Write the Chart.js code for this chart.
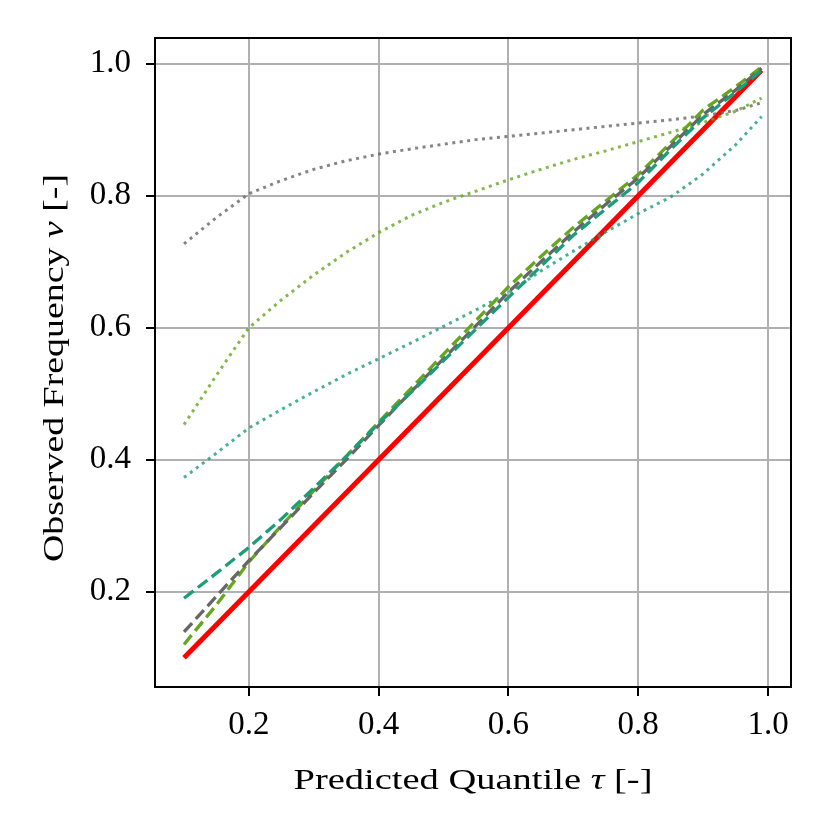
<!DOCTYPE html>
<html><head><meta charset="utf-8">
<script src="https://cdn.jsdelivr.net/npm/chart.js@4.4.1/dist/chart.umd.min.js"></script>
<style>html,body{margin:0;padding:0;background:#fff}#wrap{width:829px;height:829px;position:relative}
#pre{position:absolute;left:-9999px;top:0;font-family:"Liberation Serif";font-size:30px}
#pre i{font-style:italic}</style>
</head><body><div id="pre">Predicted 0.2 <i>τ v</i></div><div id="wrap"><canvas id="c" width="829" height="829"></canvas></div>
<script>
const quantiles = [0.1,0.15,0.2,0.25,0.3,0.35,0.4,0.45,0.5,0.55,0.6,0.65,0.7,0.75,0.8,0.85,0.9,0.95,0.99];
const idealLine = [0.1,0.15,0.2,0.25,0.3,0.35,0.4,0.45,0.5,0.55,0.6,0.65,0.7,0.75,0.8,0.85,0.9,0.95,0.99];
const tealDashed = [0.19,0.228,0.267,0.31,0.357,0.405,0.455,0.502,0.55,0.598,0.646,0.693,0.74,0.78,0.82,0.87,0.918,0.957,0.99];
const grayDashed = [0.139,0.193,0.247,0.298,0.35,0.40,0.452,0.503,0.553,0.603,0.654,0.70,0.745,0.787,0.827,0.875,0.923,0.96,0.993];
const greenDashed = [0.12,0.18,0.245,0.30,0.353,0.405,0.457,0.508,0.56,0.611,0.662,0.708,0.752,0.792,0.832,0.88,0.93,0.965,0.995];
const tealDotted = [0.373,0.41,0.448,0.476,0.503,0.529,0.553,0.577,0.602,0.627,0.653,0.686,0.716,0.745,0.773,0.798,0.833,0.877,0.92];
const grayDotted = [0.727,0.767,0.803,0.823,0.840,0.853,0.863,0.871,0.878,0.885,0.890,0.895,0.900,0.905,0.910,0.915,0.921,0.929,0.941];
const greenDotted = [0.453,0.528,0.60,0.642,0.680,0.714,0.744,0.770,0.790,0.807,0.824,0.840,0.855,0.868,0.882,0.896,0.911,0.928,0.948];
const xTicks = [0.2,0.4,0.6,0.8,1.0];
const yTicks = [0.2,0.4,0.6,0.8,1.0];

const pts = arr => quantiles.map((q,i)=>({x:q,y:arr[i]}));
const SERIF = '"Liberation Serif", serif';

function ds(arr, color, width, dash, order){
  return {data: pts(arr), borderColor: color, borderWidth: width, borderDash: dash,
    pointRadius: 0, fill: false, tension: 0, order: order, borderCapStyle: 'butt'};
}

const framePlugin = {
  id: 'frame',
  afterDraw(chart){
    const {ctx, chartArea: a} = chart;
    ctx.save();
    ctx.strokeStyle = '#000'; ctx.lineWidth = 2;
    ctx.strokeRect(a.left, a.top, a.right - a.left, a.bottom - a.top);
    ctx.fillStyle = '#000';
    ctx.textBaseline = 'alphabetic';
    function drawPieces(pieces, cx, by, target){
      let w = 0;
      pieces.forEach(p => { ctx.font = (p[1] ? 'italic ' : '') + '30px ' + SERIF; w += ctx.measureText(p[0]).width; });
      const sx = target / w;
      ctx.save();
      ctx.translate(cx, by);
      ctx.scale(sx, 1);
      let x = -w/2;
      pieces.forEach(p => { ctx.font = (p[1] ? 'italic ' : '') + '30px ' + SERIF; ctx.fillText(p[0], x, 0); x += ctx.measureText(p[0]).width; });
      ctx.restore();
    }
    drawPieces([['Predicted Quantile ', false], ['τ', true], [' [-]', false]], (a.left + a.right)/2, 789, 359);
    ctx.translate(63, 368);
    ctx.rotate(-Math.PI/2);
    drawPieces([['Observed Frequency ', false], ['v', true], [' [-]', false]], 0, 0, 388);
    ctx.restore();
  }
};

function build(){
new Chart(document.getElementById('c'), {
  type: 'line',
  data: { datasets: [
    ds(grayDotted, 'rgba(102,102,102,0.8)', 3, [3,4.5], 3),
    ds(greenDotted, 'rgba(102,166,30,0.8)', 3, [3,4.5], 3),
    ds(tealDotted, 'rgba(27,158,119,0.8)', 3, [3,4.5], 3),
    ds(tealDashed, '#1b9e77', 3.3, [12,5.5], 2),
    ds(grayDashed, '#666666', 3.3, [12,5.5], 2),
    ds(greenDashed, '#66a61e', 3.3, [12,5.5], 2),
    ds(idealLine, '#ff0000', 5, [], 4)
  ]},
  options: {
    responsive: false, devicePixelRatio: 1, animation: false,
    layout: { padding: { left: 0, top: 38, right: 38, bottom: 0 } },
    plugins: { legend: { display: false }, tooltip: { enabled: false } },
    scales: {
      x: { type: 'linear', min: 0.0553, max: 1.0354,
        afterBuildTicks: s => { s.ticks = xTicks.map(v => ({value: v})); },
        afterFit: s => { s.height = 142; },
        grid: { color: '#b0b0b0', lineWidth: 2, tickLength: 9, tickColor: '#000', tickWidth: 2 },
        border: { display: false },
        ticks: { color: '#000', font: { family: SERIF, size: 33 }, padding: 10, maxRotation: 0,
          callback: v => v.toFixed(1) } },
      y: { type: 'linear', min: 0.0555, max: 1.039,
        afterBuildTicks: s => { s.ticks = yTicks.map(v => ({value: v})); },
        afterFit: s => { s.width = 155; },
        grid: { color: '#b0b0b0', lineWidth: 2, tickLength: 9, tickColor: '#000', tickWidth: 2 },
        border: { display: false },
        ticks: { color: '#000', font: { family: SERIF, size: 33 }, padding: 15,
          callback: v => v.toFixed(1) } }
    }
  },
  plugins: [framePlugin]
});
}
Promise.all([
  document.fonts.load('33px "Liberation Serif"'),
  document.fonts.load('italic 30px "Liberation Serif"')
]).then(build, build);
</script></body></html>
